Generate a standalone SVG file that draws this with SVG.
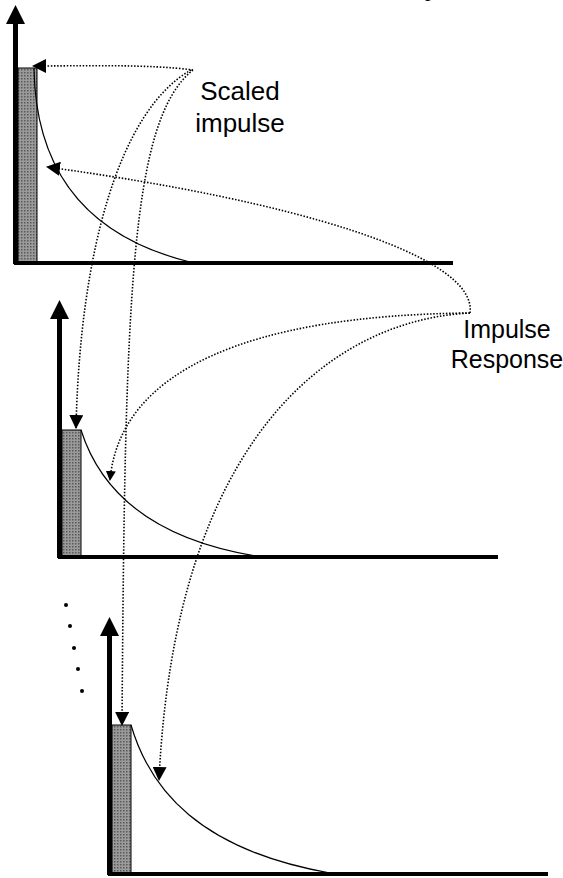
<svg xmlns="http://www.w3.org/2000/svg" width="563" height="878" viewBox="0 0 563 878">
<style>
.axis{stroke:#000;stroke-width:5;fill:none}
.haxis{stroke:#000;stroke-width:4;fill:none}
.bar{fill:url(#dots);stroke:#000;stroke-width:1}
.resp{stroke:#000;stroke-width:1.2;fill:none}
.conn{stroke:#000;stroke-width:1.6;fill:none;stroke-dasharray:1.5 1.7}
.lbl{font-family:"Liberation Sans",Arial,sans-serif;font-size:26px;fill:#000;text-anchor:middle}
</style>
<defs>
<pattern id="dots" width="3" height="3" patternUnits="userSpaceOnUse">
<rect width="3" height="3" fill="#9a9a9a"/>
<rect width="1.5" height="1.5" fill="#5a5a5a"/>
</pattern>
<marker id="ah" viewBox="0 0 14 14" refX="13" refY="7" markerWidth="14" markerHeight="14" markerUnits="userSpaceOnUse" orient="auto">
<path d="M0,0 L14,7 L0,14 Z" fill="#000"/>
</marker>
<marker id="ahs" viewBox="0 0 10 10" refX="9" refY="5" markerWidth="10" markerHeight="10" markerUnits="userSpaceOnUse" orient="auto">
<path d="M0,0 L10,5 L0,10 Z" fill="#000"/>
</marker>
</defs>
<rect width="563" height="878" fill="#fff"/>
<text x="425" y="-4" style="font-family:'Liberation Serif',serif;font-size:22px">p</text>

<g id="panel1">
<rect class="bar" x="18" y="68" width="19" height="195"/>
<path class="resp" d="M34,68 C35,140 60,230 190,262"/>
<line class="axis" x1="15.5" y1="20" x2="15.5" y2="264"/>
<polygon points="6,24 25,24 15.5,5" fill="#000"/>
<line class="haxis" x1="14" y1="263" x2="453" y2="263"/>
</g>

<g id="panel2">
<rect class="bar" x="62" y="430" width="19" height="127"/>
<path class="resp" d="M81,430 C100,490 150,540 262,557"/>
<line class="axis" x1="59.5" y1="316" x2="59.5" y2="558"/>
<polygon points="50,319 69,319 59.5,300" fill="#000"/>
<line class="haxis" x1="58" y1="557" x2="498" y2="557"/>
</g>

<g id="panel3">
<rect class="bar" x="112" y="725" width="19" height="149"/>
<path class="resp" d="M131,725 C150,790 200,850 330,873"/>
<line class="axis" x1="109.5" y1="633" x2="109.5" y2="875"/>
<polygon points="100,636 119,636 109.5,617" fill="#000"/>
<line class="haxis" x1="108" y1="874" x2="548" y2="874"/>
</g>

<g id="ellipsis">
<circle cx="66" cy="605" r="2"/>
<circle cx="70" cy="626" r="2"/>
<circle cx="74" cy="648" r="2"/>
<circle cx="78" cy="669" r="2"/>
<circle cx="82" cy="691" r="2"/>
</g>

<g id="label-scaled">
<text class="lbl" x="240" y="100">Scaled</text>
<text class="lbl" x="240" y="132">impulse</text>
</g>
<g id="label-response">
<text class="lbl" x="507" y="338" style="font-size:25px">Impulse</text>
<text class="lbl" x="507" y="368" style="font-size:25px">Response</text>
</g>

<g id="connectors">
<path class="conn" marker-end="url(#ah)" d="M193,70 C150,64 80,66 33,66"/>
<path class="conn" marker-end="url(#ah)" d="M191,70 C120,110 80,250 76,428"/>
<path class="conn" marker-end="url(#ah)" d="M193,70 C130,120 125,300 122,725"/>
<path class="conn" marker-end="url(#ah)" d="M470,313 C478,255 290,200 47,167"/>
<path class="conn" marker-end="url(#ahs)" d="M470,313 C250,315 120,370 110,480"/>
<path class="conn" marker-end="url(#ah)" d="M470,313 C330,320 175,440 159,780"/>
</g>
</svg>
